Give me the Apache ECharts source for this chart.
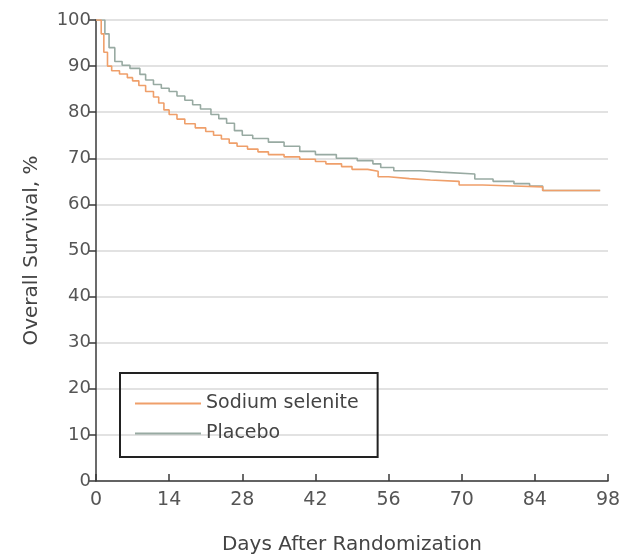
<!DOCTYPE html>
<html>
<head>
<meta charset="utf-8">
<script src="https://cdn.jsdelivr.net/npm/echarts@6/dist/echarts.min.js"></script>
<style>
  html, body { margin: 0; padding: 0; background: #fff; }
  #chart { width: 620px; height: 558px; }
</style>
</head>
<body>
<div id="chart"></div>
<script>
// Kaplan-Meier steps (day, survival %)
var selDays = [0, 1.0, 1.5, 2.2, 3.0, 4.5, 6, 7, 8.2, 9.5, 11, 12, 13, 14, 15.5, 17, 19, 21, 22.5, 24, 25.5, 27, 29, 31, 33, 36, 39, 42, 44, 47, 49, 52, 54, 56, 60, 64, 69.5, 74, 80, 85.5, 96.5];
var selSurv = [100, 97, 93, 90, 89, 88.3, 87.5, 86.8, 85.8, 84.5, 83.3, 82, 80.5, 79.5, 78.5, 77.5, 76.6, 75.8, 75, 74.2, 73.3, 72.6, 72, 71.4, 70.8, 70.3, 69.8, 69.3, 68.8, 68.2, 67.6, 67.2, 66, 65.6, 65.3, 65, 64.2, 64, 63.8, 63, 63];

var plaDays = [0, 1.7, 2.5, 3.6, 5, 6.5, 8.4, 9.5, 11, 12.5, 14, 15.5, 17, 18.5, 20, 22, 23.5, 25, 26.5, 28, 30, 33, 36, 39, 42, 46, 50, 53, 54.5, 57, 62, 66, 72.5, 76, 80, 83, 85.5, 96.5];
var plaSurv = [100, 97, 94, 91, 90.2, 89.5, 88.2, 87, 86, 85.2, 84.5, 83.5, 82.6, 81.6, 80.7, 79.5, 78.6, 77.6, 76, 75, 74.3, 73.5, 72.6, 71.5, 70.8, 70, 69.5, 68.8, 68, 67.3, 67, 66.6, 65.5, 65, 64.5, 64, 63, 63];

var seriesNames = ['Sodium selenite', 'Placebo'];
var seriesColors = ['#ef9f6a', '#98aaa2'];

function pairs(days, surv) {
    return days.map(function (d, i) { return [d, surv[i]]; });
}

var chart = echarts.init(document.getElementById('chart'));
var fontFam = '"DejaVu Sans", sans-serif';

var option = {
    animation: false,
    textStyle: { fontFamily: fontFam },
    grid: { left: 96, right: 12, top: 20, bottom: 77, outerBoundsMode: 'none', containLabel: false },
    legend: {
        orient: 'vertical',
        left: 120,
        top: 373,
        data: seriesNames,
        icon: 'rect',
        itemWidth: 66,
        itemHeight: 2,
        itemGap: 11,
        padding: [21, 19, 14, 15],
        borderColor: '#222',
        borderWidth: 2,
        textStyle: { fontSize: 19, color: '#444', fontFamily: fontFam }
    },
    xAxis: {
        type: 'value',
        min: 0,
        max: 98,
        interval: 14,
        name: 'Days After Randomization',
        nameLocation: 'middle',
        nameGap: 54,
        nameTextStyle: { fontSize: 20, color: '#444' },
        axisLine: { lineStyle: { color: '#3a3a3a', width: 1.5 } },
        axisTick: { inside: true, length: 7, lineStyle: { color: '#3a3a3a', width: 1.5 } },
        axisLabel: { fontSize: 19, color: '#555', margin: 10 },
        splitLine: { show: false }
    },
    yAxis: {
        type: 'value',
        min: 0,
        max: 100,
        interval: 10,
        name: 'Overall Survival, %',
        nameLocation: 'middle',
        nameGap: 54,
        nameTextStyle: { fontSize: 20, color: '#444' },
        axisLine: { show: true, lineStyle: { color: '#3a3a3a', width: 1.5 } },
        axisTick: { show: true, length: 8, lineStyle: { color: '#3a3a3a', width: 1.5 } },
        axisLabel: { fontSize: 18, color: '#555', margin: 5 },
        splitLine: { lineStyle: { color: '#d9d9d9', width: 1.5 } }
    },
    series: [
        {
            name: 'Placebo',
            type: 'line',
            step: 'end',
            symbol: 'none',
            data: pairs(plaDays, plaSurv),
            lineStyle: { color: seriesColors[1], width: 1.6 },
            itemStyle: { color: seriesColors[1] }
        },
        {
            name: 'Sodium selenite',
            type: 'line',
            step: 'end',
            symbol: 'none',
            data: pairs(selDays, selSurv),
            lineStyle: { color: seriesColors[0], width: 1.6 },
            itemStyle: { color: seriesColors[0] }
        }
    ]
};

chart.setOption(option);
</script>
</body>
</html>
